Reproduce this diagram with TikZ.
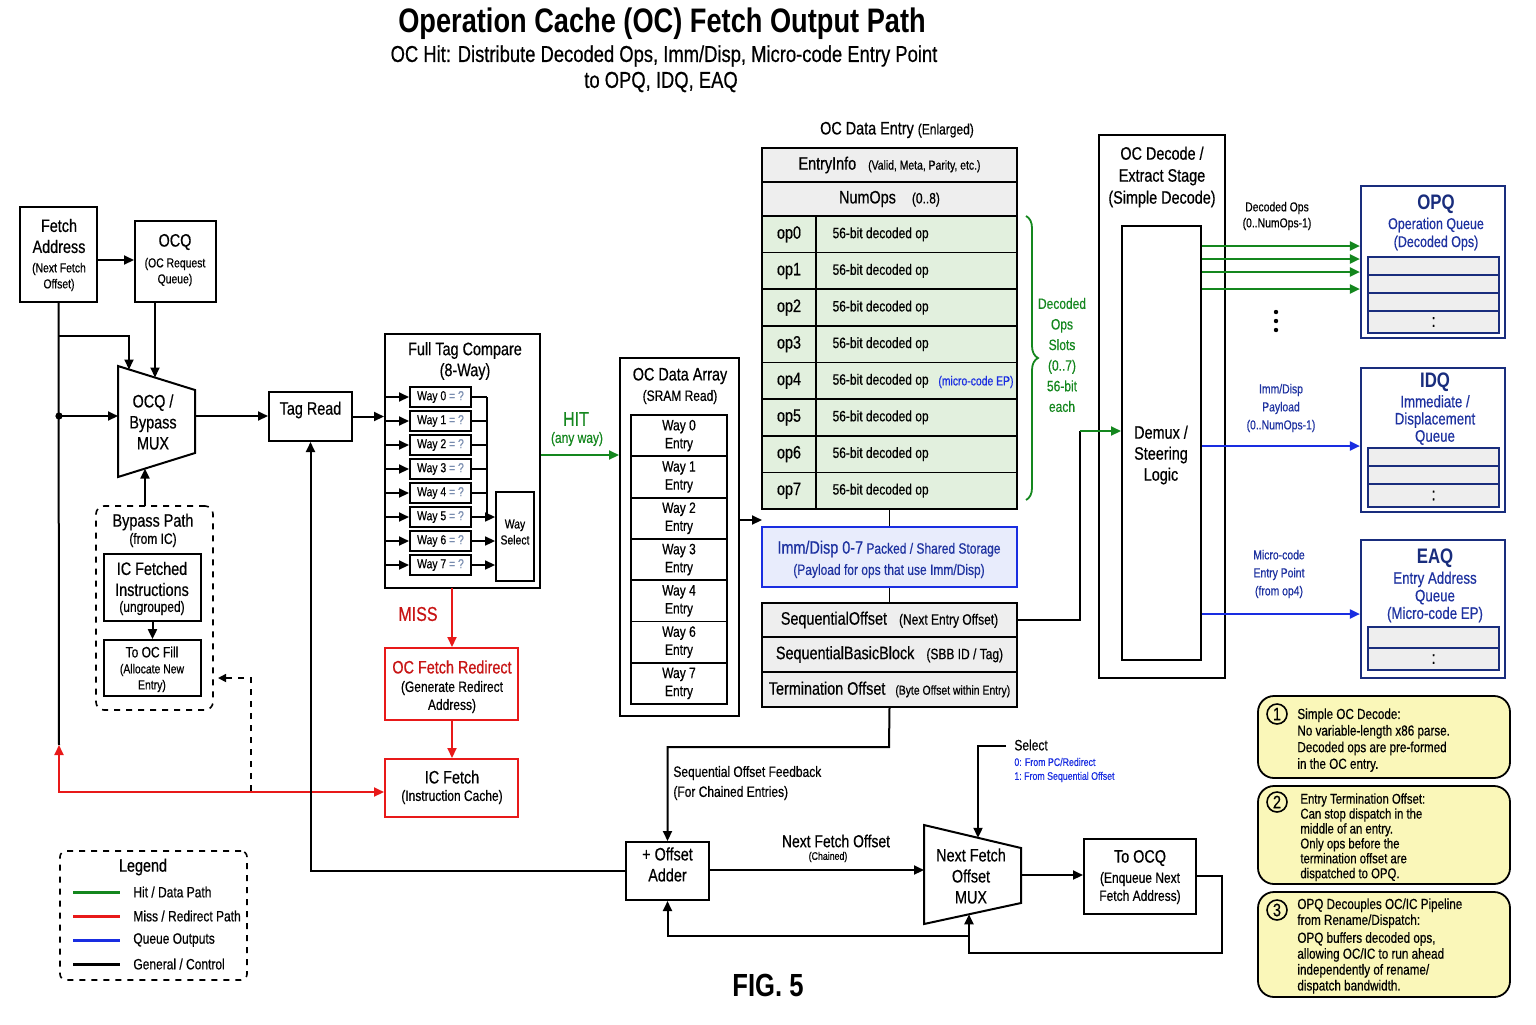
\documentclass[tikz,border=0pt]{standalone}
\usepackage{fontspec}
\setmainfont[FakeStretch=0.8,FakeBold=0.5,BoldFeatures={FakeBold=0}]{Liberation Sans}
\usetikzlibrary{arrows.meta,fit,decorations.pathreplacing,calc}
\definecolor{hitg}{RGB}{20,135,30}
\definecolor{missr}{RGB}{232,25,25}
\definecolor{darkred}{RGB}{200,20,20}
\definecolor{qblue}{RGB}{25,45,225}
\definecolor{navy}{RGB}{25,45,125}
\definecolor{navyt}{RGB}{30,50,160}
\definecolor{opfill}{RGB}{226,240,222}
\definecolor{grayfill}{RGB}{238,238,238}
\definecolor{immfill}{RGB}{232,236,252}
\definecolor{notefill}{RGB}{250,247,185}
\definecolor{eqgray}{RGB}{120,140,175}
\newcommand\FtT{\fontsize{17}{20}\selectfont}
\newcommand\FtS{\fontsize{11.5}{13}\selectfont}
\newcommand\FtA{\fontsize{9}{10.5}\selectfont}
\newcommand\FtB{\fontsize{7.5}{9}\selectfont}
\newcommand\FtC{\fontsize{6.5}{8}\selectfont}
\newcommand\FtD{\fontsize{5.5}{7}\selectfont}
\begin{document}
\begin{tikzpicture}[x=0.5pt,y=-0.5pt,
  wire/.style={line width=1pt},
  arr/.style={line width=1pt,-{Triangle[length=5pt,width=4.5pt]}},
  box/.style={draw,line width=1pt,inner sep=0pt,align=center,fill=white},
  txt/.style={inner sep=0pt,align=center},
  opcell/.style={draw,line width=0.8pt,fill=opfill,inner sep=0pt},
  graycell/.style={draw,line width=0.8pt,fill=grayfill,inner sep=0pt},
  slot/.style={draw=navy,line width=0.8pt,fill=grayfill,inner sep=0pt},
  qbox/.style={draw=navy,line width=1.1pt,fill=white,inner sep=0pt},
  note/.style={draw,line width=0.9pt,fill=notefill,rounded corners=8pt,inner sep=0pt},
  num/.style={draw,circle,line width=0.8pt,inner sep=0.6pt,minimum size=10pt,font=\FtA},
  ntext/.style={inner sep=0pt,align=left,anchor=north west,font=\fontsize{7.3}{8.3}\selectfont}
]
\useasboundingbox (0,0) rectangle (1536,1024);
\fill[white] (0,0) rectangle (1536,1024);

% ---------- title ----------
\node[txt,font=\bfseries\FtT] (title) at (662,24) {Operation Cache (OC) Fetch Output Path};
\node[txt,font=\FtS] (sub1) at (664,56) {OC Hit: Distribute Decoded Ops, Imm/Disp, Micro-code Entry Point};
\node[txt,font=\FtS] (sub2) at (661,82) {to OPQ, IDQ, EAQ};

% ---------- fetch address / OCQ ----------
\node[box,fit={(20,207)(97,302)}] (fa) {};
\node[txt,font=\FtA] (faT) at (59,236) {Fetch\\Address};
\node[txt,font=\FtC] (faS) at (59,277) {(Next Fetch\\Offset)};
\node[box,fit={(135,221)(216,302)}] (ocq) {};
\node[txt,font=\FtA] (ocqT) at (175,242) {OCQ};
\node[txt,font=\FtC] (ocqS) at (175,272) {(OC Request\\Queue)};
\draw[arr] (fa.east |- 0,260) -- (ocq.west |- 0,260);

% ---------- OCQ / Bypass MUX ----------
\draw[line width=1pt] (118,366) -- (195,390) -- (195,453) -- (118,477) -- cycle;
\coordinate (m1w) at (118,416);
\coordinate (m1e) at (195,416);
\coordinate (m1t1) at (129,369.5);
\coordinate (m1t2) at (155,377.5);
\coordinate (m1b) at (145,468.6);
\node[txt,font=\FtA] (m1T) at (153,422) {OCQ /\\Bypass\\MUX};

\coordinate (j1) at (59,336);
\coordinate (dot1) at (59,416);
\coordinate (redtop) at (59,745);
\coordinate (redcorner) at (59,792);
\draw[wire] (fa.south) -- (redtop);
\draw[arr] (j1) -- (129,336) -- (m1t1);
\draw[arr] (ocq.south -| m1t2) -- (m1t2);
\fill (dot1) circle[radius=1.8pt];
\draw[arr] (dot1) -- (m1w);

% ---------- Tag Read ----------
\node[box,fit={(269,392)(352,441)},font=\FtA] (tag) {Tag Read};
\draw[arr] (m1e) -- (tag.west |- m1e);

% ---------- Bypass path ----------
\node[draw,dashed,line width=0.8pt,rounded corners=4pt,fit={(96,506)(213,710)},inner sep=0pt] (bp) {};
\node[txt,font=\FtA] (bpT) at (153,522) {Bypass Path};
\node[txt,font=\FtB] (bpS) at (153,540) {(from IC)};
\node[box,line width=0.9pt,fit={(104,554)(201,621)}] (icfi) {};
\node[txt,font=\FtA] (icfiT) at (152,579) {IC Fetched\\Instructions};
\node[txt,font=\FtB] (icfiS) at (152,608) {(ungrouped)};
\node[box,line width=0.9pt,fit={(104,640)(201,696)}] (ocfill) {};
\node[txt,font=\FtB] (ocfillT) at (152,652) {To OC Fill};
\node[txt,font=\FtC] (ocfillS) at (152,678) {(Allocate New\\Entry)};
\draw[arr] (icfi.south) -- (ocfill.north);
\coordinate (bptop) at (145,506);
\draw[arr] (bptop) -- (m1b);

% ---------- Full tag compare ----------
\node[box,fit={(385,334)(540,588)}] (ftc) {};
\node[txt,font=\FtA] (ftcT) at (465,361) {Full Tag Compare\\(8-Way)};
\draw[arr] (tag.east) -- (ftc.west |- tag.east);
\node[box,line width=0.9pt,fit={(496,492)(534,581)},font=\FtC] (wsel) {Way\\Select};
\foreach \i in {0,...,7}{
  \pgfmathsetmacro\yc{397+24*\i}
  \node[box,line width=1pt,fit={(410,\yc-10)(471,\yc+10)}] (w\i) {};
  \node[txt,font=\FtC] (wt\i) at (w\i.center) {Way \i\ {\color{eqgray}= ?}};
  \draw[arr] (ftc.west |- w\i.center) -- (w\i.west);
}
\foreach \i in {0,...,4}{
  \draw[wire,line width=0.8pt] (w\i.east) -- (487,{397+24*\i});
}
\draw[wire,line width=0.8pt] (487,397) -- (487,517);
\draw[arr,line width=0.8pt] (w5.east) -- (wsel.west |- w5.east);
\draw[arr,line width=0.8pt] (w6.east) -- (wsel.west |- w6.east);
\draw[arr,line width=0.8pt] (w7.east) -- (wsel.west |- w7.east);

% ---------- HIT / MISS ----------
\node[box,fit={(620,358)(739,716)}] (oda) {};
\draw[arr,hitg] (ftc.east |- 0,455) -- (oda.west |- 0,455);
\node[txt,font=\fontsize{10}{12}\selectfont,text=hitg] (hitT) at (576,419) {HIT};
\node[txt,font=\FtB,text=hitg] (hitS) at (577,439) {(any way)};

\node[box,draw=missr,fit={(385,648)(518,720)}] (ocfr) {};
\node[txt,font=\FtA,text=darkred] (ocfrT) at (452,667) {OC Fetch Redirect};
\node[txt,font=\FtB] (ocfrS) at (452,697) {(Generate Redirect\\Address)};
\node[box,draw=missr,fit={(385,759)(518,817)}] (icf) {};
\node[txt,font=\FtA] (icfT) at (452,777) {IC Fetch};
\node[txt,font=\FtB] (icfS) at (452,797) {(Instruction Cache)};
\draw[arr,missr] (452,588) -- (ocfr.north -| 452,0);
\node[txt,font=\fontsize{10}{12}\selectfont,text=darkred] (missT) at (418,614) {MISS};
\draw[arr,missr] (ocfr.south -| 452,0) -- (icf.north -| 452,0);
\draw[line width=1pt,missr,{Triangle[length=5pt,width=4.5pt]}-{Triangle[length=5pt,width=4.5pt]}] (redtop) -- (redcorner) -- (icf.west |- redcorner);
\draw[wire,line width=0.8pt,dashed,-{Triangle[length=4pt,width=4pt]}] (251,791) -- (251,678) -- (218,678);

% tag read feedback from adder
\node[box,fit={(626,842)(709,900)},font=\FtA] (adder) {+ Offset\\Adder};
\draw[arr] (adder.west) -- (tag.south |- adder.west) -- (tag.south);

% ---------- OC Data Array ----------
\node[txt,font=\FtA] (odaT) at (680,376) {OC Data Array};
\node[txt,font=\FtB] (odaS) at (680,397) {(SRAM Read)};
\foreach \w [count=\k from 0] in {0,1,2,3,4,6,7}{
  \pgfmathsetmacro\yt{415+41.3*\k}
  \node[box,line width=0.9pt,fit={(631,\yt)(727,\yt+41.3)}] (dc\k) {};
  \node[txt,font=\FtB] (dct\k) at (dc\k.center) {Way \w\\Entry};
}
\coordinate (odeIn) at (762,520);
\draw[arr] (oda.east |- odeIn) -- (odeIn);

% ---------- OC Data Entry ----------
\node[txt,font=\FtA] (odeT) at (897,130) {OC Data Entry {\FtB(Enlarged)}};
\node[graycell,fit={(762,148)(1017,182)}] (einfo) {};
\node[txt,font=\FtA] (einfoT) at (einfo.center) {EntryInfo\hspace{6pt}{\FtC(Valid, Meta, Parity, etc.)}};
\node[graycell,fit={(762,182)(1017,216)}] (nops) {};
\node[txt,font=\FtA] (nopsT) at (nops.center) {NumOps\hspace{8pt}{\FtB(0..8)}};
\foreach \i in {0,...,7}{
  \pgfmathsetmacro\yt{216+36.625*\i}
  \node[opcell,fit={(762,\yt)(816,\yt+36.625)}] (opn\i) {};
  \node[opcell,fit={(816,\yt)(1017,\yt+36.625)}] (opd\i) {};
  \node[txt,font=\FtA] (opl\i) at (opn\i.center) {op\i};
  \node[txt,font=\FtB,anchor=west] (opt\i) at ($(opd\i.west)+(17,0)$) {56-bit decoded op};
}
\node[txt,font=\FtC,text=qblue,anchor=west] (mcep) at (938,382) {(micro-code EP)};
\draw[hitg,line width=0.9pt,decorate,decoration={brace,amplitude=6pt}] (1026,216) -- (1026,500);
\node[txt,font=\FtB,text=hitg] (slotsT) at (1062,355) {Decoded\\[1.3pt]Ops\\[1.3pt]Slots\\[1.3pt](0..7)\\[1.3pt]56-bit\\[1.3pt]each};

\node[draw=qblue,line width=1pt,fill=immfill,fit={(762,527)(1017,587)},inner sep=0pt] (imm) {};
\node[txt,text=navyt,font=\FtB] (immT) at (889,549) {{\FtA Imm/Disp 0-7} Packed / Shared Storage};
\node[txt,text=navyt,font=\FtB] (immS) at (889,571) {(Payload for ops that use Imm/Disp)};
\draw[wire,line width=0.8pt] (opd7.south -| imm.north) -- (imm.north);

\node[graycell,fit={(762,603)(1017,637)}] (so) {};
\node[txt,font=\FtA] (soT) at (so.center) {SequentialOffset\hspace{6pt}{\FtB(Next Entry Offset)}};
\node[graycell,fit={(762,637)(1017,672)}] (sbb) {};
\node[txt,font=\FtA] (sbbT) at (sbb.center) {SequentialBasicBlock\hspace{6pt}{\FtB(SBB ID / Tag)}};
\node[graycell,fit={(762,672)(1017,707)}] (term) {};
\node[txt,font=\FtB] (termT) at (term.center) {{\FtA Termination Offset}\hspace{5pt}{\FtC(Byte Offset within Entry)}};
\draw[wire,line width=0.8pt] (imm.south) -- (so.north -| imm.south);

% ---------- OC decode ----------
\node[box,line width=1.2pt,fit={(1099,135)(1225,678)}] (ocd) {};
\node[txt,font=\FtA] (ocdT) at (1162,177) {OC Decode /\\[0.5pt]Extract Stage\\[0.5pt](Simple Decode)};
\node[box,fit={(1122,226)(1201,660)}] (demux) {};
\node[txt,font=\FtA] (demuxT) at (1161,455) {Demux /\\Steering\\Logic};
\coordinate (sofb) at (1080,431);
\draw[wire] (so.east) -- (so.east -| sofb) -- (sofb);
\draw[arr,hitg] (sofb) -- (demux.west |- sofb);

% ---------- queues ----------
\node[qbox,fit={(1361,186)(1505,338)}] (opq) {};
\node[txt,font=\bfseries\fontsize{10.5}{12}\selectfont,text=navy] (opqT) at (1436,204) {OPQ};
\node[txt,font=\fontsize{7.8}{9}\selectfont,text=navyt] (opqS) at (1436,234) {Operation Queue\\(Decoded Ops)};
\foreach \a/\b [count=\k] in {257/275,275/293,293/311,311/333}{
  \node[slot,fit={(1368,\a)(1499,\b)}] (opqs\k) {};
}
\node[txt,font=\FtA] (opqdots) at (opqs4.center) {:};

\node[qbox,fit={(1361,368)(1505,512)}] (idq) {};
\node[txt,font=\bfseries\fontsize{10.5}{12}\selectfont,text=navy] (idqT) at (1435,382) {IDQ};
\node[txt,font=\fontsize{8.3}{8.6}\selectfont,text=navyt] (idqS) at (1435,420) {Immediate /\\Displacement\\Queue};
\foreach \a/\b [count=\k] in {448/466,466/484,484/507}{
  \node[slot,fit={(1368,\a)(1499,\b)}] (idqs\k) {};
}
\node[txt,font=\FtA] (idqdots) at (idqs3.center) {:};

\node[qbox,fit={(1361,540)(1505,678)}] (eaq) {};
\node[txt,font=\bfseries\fontsize{10.5}{12}\selectfont,text=navy] (eaqT) at (1435,558) {EAQ};
\node[txt,font=\fontsize{8.3}{8.8}\selectfont,text=navyt] (eaqS) at (1435,597) {Entry Address\\Queue\\(Micro-code EP)};
\foreach \a/\b [count=\k] in {627/648,648/670}{
  \node[slot,fit={(1368,\a)(1499,\b)}] (eaqs\k) {};
}
\node[txt,font=\FtA] (eaqdots) at (eaqs2.center) {:};

\foreach \y in {246,259,272,289}{
  \draw[arr,hitg] (demux.east |- 0,\y) -- (opq.west |- 0,\y);
}
\node[txt,font=\FtC] (dopsT) at (1277,216) {Decoded Ops\\(0..NumOps-1)};
\foreach \y in {312,321,330}{ \fill (1276,\y) circle[radius=1.1pt]; }
\draw[arr,qblue] (demux.east |- 0,446) -- (idq.west |- 0,446);
\node[txt,font=\FtC,text=navyt] (immpT) at (1281,408) {Imm/Disp\\[1pt]Payload\\[1pt](0..NumOps-1)};
\draw[arr,qblue] (demux.east |- 0,614) -- (eaq.west |- 0,614);
\node[txt,font=\FtC,text=navyt] (mcT) at (1279,574) {Micro-code\\[1pt]Entry Point\\[1pt](from op4)};

% ---------- bottom loop ----------
\coordinate (fb) at (889,747);
\draw[arr] (term.south) -- (fb) -- (fb -| adder.north) -- (adder.north);
\node[txt,font=\FtB,anchor=west] (sofT) at (673,773) {Sequential Offset Feedback};
\node[txt,font=\FtB,anchor=west] (sofS) at (673,793) {(For Chained Entries)};

\draw[line width=1pt] (924,825) -- (1021,848) -- (1021,903) -- (924,924) -- cycle;
\node[txt,font=\FtA] (nfmT) at (971,876) {Next Fetch\\Offset\\MUX};
\coordinate (nfmW) at (924,870);
\coordinate (nfmE) at (1021,875);
\coordinate (nfmTop) at (978,837.8);
\coordinate (nfmBot) at (969,914.3);
\draw[arr] (adder.east |- nfmW) -- (nfmW);
\node[txt,font=\fontsize{8.7}{10}\selectfont] (nfoT) at (836,841) {Next Fetch Offset};
\node[txt,font=\FtD] (nfoS) at (828,857) {(Chained)};

\draw[arr] (1006,746) -- (978,746) -- (nfmTop);
\node[txt,font=\FtB,anchor=west] (selT) at (1014,745) {Select};
\node[txt,font=\FtD,text=qblue,anchor=west] (sel0) at (1014,762) {0: From PC/Redirect};
\node[txt,font=\FtD,text=qblue,anchor=west] (sel1) at (1014,777) {1:\ From Sequential Offset};

\node[box,fit={(1084,839)(1196,914)}] (tocq) {};
\node[txt,font=\FtA] (tocqT) at (1140,858) {To OCQ};
\node[txt,font=\FtB] (tocqS) at (1140,888) {(Enqueue Next\\Fetch Address)};
\draw[arr] (nfmE) -- (tocq.west |- nfmE);
\draw[arr] (tocq.east |- 0,876) -- (1222,876) -- (1222,953) -- (969,953) -- (nfmBot);
\draw[arr] (969,936) -- (adder.south |- 0,936) -- (adder.south);

\node[txt,font=\bfseries\fontsize{16}{18}\selectfont] (fig) at (768,985) {FIG. 5};

% ---------- legend ----------
\node[draw,dashed,line width=0.8pt,rounded corners=3pt,fit={(60,851)(247,980)},inner sep=0pt] (legend) {};
\node[txt,font=\FtA] (legT) at (143,867) {Legend};
\draw[hitg,line width=1.5pt] (73,892) -- (120,892);
\node[txt,font=\FtB,anchor=west] (leg1) at (133,892) {Hit / Data Path};
\draw[missr,line width=1.5pt] (73,916) -- (120,916);
\node[txt,font=\FtB,anchor=west] (leg2) at (133,916) {Miss / Redirect Path};
\draw[qblue,line width=1.5pt] (73,940) -- (120,940);
\node[txt,font=\FtB,anchor=west] (leg3) at (133,940) {Queue Outputs};
\draw[black,line width=1.5pt] (73,964) -- (120,964);
\node[txt,font=\FtB,anchor=west] (leg4) at (133,964) {General / Control};

% ---------- notes ----------
\node[note,fit={(1258,696)(1510,778)}] (n1) {};
\node[num] (n1c) at (1277,714) {1};
\node[ntext] (n1t) at (1297,708) {Simple OC Decode:\\No variable-length x86 parse.\\Decoded ops are pre-formed\\in the OC entry.};
\node[note,fit={(1258,786)(1510,884)}] (n2) {};
\node[num] (n2c) at (1277,802) {2};
\node[ntext,font=\fontsize{7.1}{7.45}\selectfont] (n2t) at (1300,793) {Entry Termination Offset:\\Can stop dispatch in the\\middle of an entry.\\Only ops before the\\termination offset are\\dispatched to OPQ.};
\node[note,fit={(1258,892)(1510,997)}] (n3) {};
\node[num] (n3c) at (1277,910) {3};
\node[ntext,font=\fontsize{7.3}{7.95}\selectfont] (n3t) at (1297,898) {OPQ Decouples OC/IC Pipeline\\from Rename/Dispatch:\\[1pt]OPQ buffers decoded ops,\\allowing OC/IC to run ahead\\independently of rename/\\dispatch bandwidth.};
\end{tikzpicture}
\end{document}
